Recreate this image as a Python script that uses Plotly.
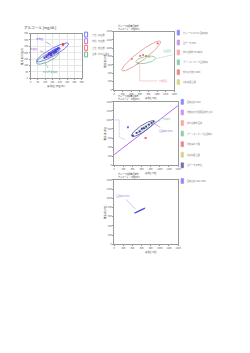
import numpy as np
import plotly.graph_objects as go

W, H = 250, 353
FONT = "Noto Sans CJK JP, Noto Sans, sans-serif"

# ---------------- data ----------------
# Panel A (alcohol)
a_title = "アルコール [mg/dL]"
a_xlabel = "実測値 [mg/dL]"
a_ylabel = "推定値 [mg/dL]"
a_ticks = [0, 50, 100, 150, 200, 250, 300, 350]
a_pts_x = [95, 108, 118, 126, 134, 142, 150, 158, 166, 174, 182, 190, 140, 160, 128, 172]
a_pts_y = [160, 170, 178, 186, 190, 196, 204, 210, 214, 222, 228, 236, 182, 200, 196, 206]
a_red_x = [222]
a_red_y = [264]
# ellipses: centre x, centre y, semi-major, semi-minor, angle (deg)
a_ell_names = ["下位 - 高値群", "中位 - 中値群", "上位 - 低値群", "全体 - 95%信頼域"]
a_ell_colors = ["#5a5aff", "#b04fd0", "#ff4a4a", "#55aa77"]
a_ell_cx = [150, 152, 222, 118]
a_ell_cy = [202, 200, 264, 160]
a_ell_a = [130, 62, 8, 88]
a_ell_b = [28, 17, 5, 28]
a_ell_ang = [33, 35, 30, 30]
a_extra_cx = [165]
a_extra_cy = [212]
a_extra_a = [42]
a_extra_b = [13]
a_extra_ang = [36]
a_lab_text = ["平均値", "中央値", "95%予測楕円"]
a_lab_x = [67, 27, 135]
a_lab_y = [311, 226, 52]
a_lab_to_x = [138, 88, 100]
a_lab_to_y = [262, 206, 118]

# right-hand panels share this axis
r_ticks = [0, 200, 400, 600, 800, 1000, 1200, 1400]
r_xlabel = "実測値 (mg)"
r_ylabel = "推定値 (mg)"

# Panel B
b_title = ["グループ別検量回帰式", "アルコール ・ Region 1"]
b_leg_names = ["グループA (n=12) 回帰楕円", "全データ 95%", "外れ値除外 95%楕円",
               "ブートストラップ信頼楕円", "外れ値 判定 (Cook)", "参照範囲 上限"]
b_leg_colors = ["#6b6bff", "#c07ae6", "#ff8c8c", "#6fc29a", "#e06a6a", "#cccc66"]
b_ell_cx = [631, 735]
b_ell_cy = [817, 723]
b_ell_a = [568, 233]
b_ell_b = [105, 80]
b_ell_ang = [38, 12]
b_ell_colors = ["#e88a8a", "#7cc8a0"]
b_pts_x = [414, 607, 677, 747, 817, 1015, 560]
b_pts_y = [747, 817, 840, 817, 793, 1120, 640]
b_pts_colors = ["#e08080", "#d07070", "#e08080", "#70b090", "#c0c060", "#e06060", "#e08080"]
b_green_lead_x = [964, 1380]
b_green_lead_y = [747, 850]
b_pink_lead_x = [597, 597, 1010]
b_pink_lead_y = [603, 217, 217]
b_lab_text = ["信頼区間", "予測区間"]

# Panel C
c_title = ["グループ別検量回帰式", "アルコール ・ Region 2"]
c_leg_names = ["回帰直線 (OLS)", "外部精度管理用回帰式 (y=x)", "外れ値除外 回帰", "ブートストラップ信頼楕円",
               "判定基準 下限", "参照範囲 上限", "全データ 平均値"]
c_leg_colors = ["#6b6bff", "#c07ae6", "#ff8c8c", "#6fc29a", "#e06a6a", "#cccc66", "#4a4aa0"]
c_line_x = [0, 1500]
c_line_y = [233, 1396]
c_ell_cx = [624, 653]
c_ell_cy = [807, 817]
c_ell_a = [292, 175]
c_ell_b = [72, 30]
c_ell_ang = [34, 34]
c_ell_colors = ["#4a4aa0", "#7cc8a0"]
c_pts_x = [408, 490, 560, 607, 653, 700, 758, 817, 863]
c_pts_y = [653, 712, 747, 805, 817, 852, 898, 933, 968]
c_out_x = [301, 688]
c_out_y = [840, 603]
c_out_colors = ["#6b6bff", "#e06a6a"]
c_lab_text = ["信頼楕円 (95%)", "予測楕円"]
c_lab_x = [1130, 1130]
c_lab_y = [760, 1010]
c_lab_to_x = [880, 820]
c_lab_to_y = [920, 935]
c_side_lead_x = [0, 110, 110, 250]
c_side_lead_y = [1000, 1000, 620, 560]

# Panel D
d_title = ["グループ別検量回帰式", "アルコール ・ Region 3"]
d_leg_names = ["回帰直線 (OLS) 95%"]
d_leg_colors = ["#6b6bff"]
d_ell_cx = [562]
d_ell_cy = [733]
d_ell_a = [128]
d_ell_b = [9]
d_ell_ang = [25]
d_lab_text = ["信頼楕円 (95%)"]
d_lab_x = [190]
d_lab_y = [1050]
d_lab_to_x = [470]
d_lab_to_y = [760]

# ---------------- helpers ----------------
def px_x(p):
    return p / W

def px_y(p):
    return 1 - p / H

def ellipse(cx, cy, a, b, ang):
    t = np.linspace(0, 2 * np.pi, 120)
    th = np.deg2rad(ang)
    x = cx + a * np.cos(t) * np.cos(th) - b * np.sin(t) * np.sin(th)
    y = cy + a * np.cos(t) * np.sin(th) + b * np.sin(t) * np.cos(th)
    return x, y

fig = go.Figure()
shapes = []
annotations = []

def add_axes(n, xdom, ydom, ticks, xlabel, ylabel, rng, grid=False):
    xa = "xaxis" if n == 1 else f"xaxis{n}"
    ya = "yaxis" if n == 1 else f"yaxis{n}"
    yref = "y" if n == 1 else f"y{n}"
    xref = "x" if n == 1 else f"x{n}"
    common = dict(range=rng, tickvals=ticks, ticktext=[str(t) for t in ticks],
                  tickfont=dict(size=2.3, color="#555", family=FONT),
                  showline=True, linecolor="#9a9a9a", linewidth=1, mirror=True,
                  ticks="outside", ticklen=1, tickcolor="#999", zeroline=False,
                  showgrid=grid, gridcolor="#e6e6e6", gridwidth=0.5,
                  fixedrange=True)
    xtitle = dict(text=xlabel, font=dict(size=2.6, color="#555", family=FONT), standoff=0.5) if xlabel else None
    fig.update_layout(**{
        xa: dict(domain=xdom, anchor=yref, title=xtitle, **common),
        ya: dict(domain=ydom, anchor=xref,
                 title=dict(text=ylabel, font=dict(size=2.6, color="#555", family=FONT), standoff=0.5),
                 **common),
    })
    return xref, yref

def lead(xr, yr, xs, ys, color):
    fig.add_trace(go.Scatter(x=xs, y=ys, mode="lines", line=dict(color=color, width=0.5),
                             xaxis=xr, yaxis=yr, showlegend=False, hoverinfo="skip"))

# ---------------- Panel A ----------------
xr, yr = add_axes(1, [px_x(30), px_x(82)], [px_y(77), px_y(32)], a_ticks, a_xlabel, a_ylabel, [0, 350], grid=True)
for i in range(len(a_ell_cx)):
    ex, ey = ellipse(a_ell_cx[i], a_ell_cy[i], a_ell_a[i], a_ell_b[i], a_ell_ang[i])
    fig.add_trace(go.Scatter(x=ex, y=ey, mode="lines", line=dict(color=a_ell_colors[i], width=0.8),
                             xaxis=xr, yaxis=yr, showlegend=False, hoverinfo="skip"))
for i in range(len(a_extra_cx)):
    ex, ey = ellipse(a_extra_cx[i], a_extra_cy[i], a_extra_a[i], a_extra_b[i], a_extra_ang[i])
    fig.add_trace(go.Scatter(x=ex, y=ey, mode="lines", line=dict(color="#5a5aff", width=0.8),
                             xaxis=xr, yaxis=yr, showlegend=False, hoverinfo="skip"))
fig.add_trace(go.Scatter(x=a_pts_x, y=a_pts_y, mode="markers",
                         marker=dict(size=2, color="#4a4ad0", symbol="square"),
                         xaxis=xr, yaxis=yr, showlegend=False))
fig.add_trace(go.Scatter(x=a_red_x, y=a_red_y, mode="markers",
                         marker=dict(size=2.5, color="#ff3030"),
                         xaxis=xr, yaxis=yr, showlegend=False))
a_lab_colors = ["#5a5aff", "#b04fd0", "#55aa77"]
for i in range(len(a_lab_text)):
    annotations.append(dict(x=a_lab_to_x[i], y=a_lab_to_y[i], ax=a_lab_x[i], ay=a_lab_y[i],
                            axref=xr, ayref=yr, xref=xr, yref=yr, text=a_lab_text[i],
                            showarrow=True, arrowhead=0, arrowwidth=0.5, arrowcolor=a_lab_colors[i],
                            font=dict(size=2.4, color=a_lab_colors[i], family=FONT)))
annotations.append(dict(x=px_x(21), y=px_y(26), xref="paper", yref="paper", text=a_title,
                        showarrow=False, xanchor="left", yanchor="middle",
                        font=dict(size=3.6, color="#333", family=FONT)))
for i, name in enumerate(a_ell_names):
    yc = 33 + i * 6.7
    shapes.append(dict(type="rect", xref="paper", yref="paper",
                       x0=px_x(85), x1=px_x(88), y0=px_y(yc + 2.5), y1=px_y(yc - 2.5),
                       line=dict(color=a_ell_colors[i], width=0.8), fillcolor="rgba(255,255,255,0)"))
    annotations.append(dict(x=px_x(90), y=px_y(yc), xref="paper", yref="paper", text=name,
                            showarrow=False, xanchor="left", yanchor="middle",
                            font=dict(size=2.2, color="#777", family=FONT)))

# ---------------- right-hand panels ----------------
def right_panel(n, top, bottom, right, title, leg_names, leg_colors, leg_top, leg_step):
    xr, yr = add_axes(n, [px_x(115), px_x(right)], [px_y(bottom), px_y(top)], r_ticks,
                      None, r_ylabel, [0, 1400])
    # x-axis label, placed right of centre just under the tick labels
    annotations.append(dict(x=px_x(152), y=px_y(bottom + 8), xref="paper", yref="paper",
                            text=r_xlabel, showarrow=False, xanchor="center", yanchor="middle",
                            borderpad=0, font=dict(size=2.2, color="#555", family=FONT)))
    for j, line in enumerate(title):
        annotations.append(dict(x=px_x(117), y=px_y(top - 5.8 + j * 3.0), xref="paper", yref="paper",
                                text=line, showarrow=False, xanchor="left", yanchor="middle",
                                font=dict(size=2.1, color="#444", family=FONT)))
    for i, name in enumerate(leg_names):
        yc = leg_top + i * leg_step
        shapes.append(dict(type="rect", xref="paper", yref="paper",
                           x0=px_x(right + 3), x1=px_x(right + 5.5), y0=px_y(yc + 2.5), y1=px_y(yc - 2.5),
                           line=dict(color=leg_colors[i], width=0.6), fillcolor=leg_colors[i], opacity=0.8))
        annotations.append(dict(x=px_x(right + 7), y=px_y(yc), xref="paper", yref="paper", text=name,
                                showarrow=False, xanchor="left", yanchor="middle",
                                font=dict(size=2.1, color="#777", family=FONT)))
    return xr, yr

# Panel B
xr, yr = right_panel(2, 30, 89, 176, b_title, b_leg_names, b_leg_colors, 31, 10)
for i in range(len(b_ell_cx)):
    ex, ey = ellipse(b_ell_cx[i], b_ell_cy[i], b_ell_a[i], b_ell_b[i], b_ell_ang[i])
    fig.add_trace(go.Scatter(x=ex, y=ey, mode="lines", line=dict(color=b_ell_colors[i], width=0.8),
                             xaxis=xr, yaxis=yr, showlegend=False, hoverinfo="skip"))
fig.add_trace(go.Scatter(x=b_pts_x, y=b_pts_y, mode="markers",
                         marker=dict(size=1.8, color=b_pts_colors, symbol="square"),
                         xaxis=xr, yaxis=yr, showlegend=False))
lead(xr, yr, b_green_lead_x, b_green_lead_y, "#9ad8b8")
lead(xr, yr, b_pink_lead_x, b_pink_lead_y, "#f0a0a0")
annotations.append(dict(x=b_green_lead_x[-1], y=b_green_lead_y[-1], xref=xr, yref=yr, text=b_lab_text[0],
                        showarrow=False, xanchor="right", yanchor="bottom",
                        font=dict(size=2.0, color="#7cc8a0", family=FONT)))
annotations.append(dict(x=b_pink_lead_x[-1], y=b_pink_lead_y[-1], xref=xr, yref=yr, text=b_lab_text[1],
                        showarrow=False, xanchor="left", yanchor="middle",
                        font=dict(size=2.0, color="#e88a8a", family=FONT)))

# Panel C
xr, yr = right_panel(3, 101, 165, 180, c_title, c_leg_names, c_leg_colors, 101, 10.7)
fig.add_trace(go.Scatter(x=c_line_x, y=c_line_y, mode="lines", line=dict(color="#b070f0", width=1),
                         xaxis=xr, yaxis=yr, showlegend=False, hoverinfo="skip", cliponaxis=False))
for i in range(len(c_ell_cx)):
    ex, ey = ellipse(c_ell_cx[i], c_ell_cy[i], c_ell_a[i], c_ell_b[i], c_ell_ang[i])
    fig.add_trace(go.Scatter(x=ex, y=ey, mode="lines", line=dict(color=c_ell_colors[i], width=0.8),
                             xaxis=xr, yaxis=yr, showlegend=False, hoverinfo="skip"))
fig.add_trace(go.Scatter(x=c_pts_x, y=c_pts_y, mode="markers",
                         marker=dict(size=1.8, color="#333388", symbol="square"),
                         xaxis=xr, yaxis=yr, showlegend=False))
fig.add_trace(go.Scatter(x=c_out_x, y=c_out_y, mode="markers",
                         marker=dict(size=2, color=c_out_colors, symbol="square"),
                         xaxis=xr, yaxis=yr, showlegend=False))
lead(xr, yr, c_side_lead_x, c_side_lead_y, "#d8a0e8")
c_lab_colors = ["#7a7ad0", "#7cc8a0"]
for i in range(len(c_lab_text)):
    annotations.append(dict(x=c_lab_to_x[i], y=c_lab_to_y[i], ax=c_lab_x[i], ay=c_lab_y[i],
                            axref=xr, ayref=yr, xref=xr, yref=yr, text=c_lab_text[i],
                            showarrow=True, arrowhead=0, arrowwidth=0.5, arrowcolor=c_lab_colors[i],
                            font=dict(size=2.0, color=c_lab_colors[i], family=FONT)))

# Panel D
xr, yr = right_panel(4, 180, 245, 180, d_title, d_leg_names, d_leg_colors, 181, 10)
for i in range(len(d_ell_cx)):
    ex, ey = ellipse(d_ell_cx[i], d_ell_cy[i], d_ell_a[i], d_ell_b[i], d_ell_ang[i])
    fig.add_trace(go.Scatter(x=ex, y=ey, mode="lines", line=dict(color="#4a4ae0", width=1),
                             xaxis=xr, yaxis=yr, showlegend=False, hoverinfo="skip"))
for i in range(len(d_lab_text)):
    annotations.append(dict(x=d_lab_to_x[i], y=d_lab_to_y[i], ax=d_lab_x[i], ay=d_lab_y[i],
                            axref=xr, ayref=yr, xref=xr, yref=yr, text=d_lab_text[i],
                            showarrow=True, arrowhead=0, arrowwidth=0.5, arrowcolor="#8a8ae8",
                            font=dict(size=2.0, color="#8a8ae8", family=FONT)))

fig.update_layout(width=W, height=H, margin=dict(l=0, r=0, t=0, b=0),
                  paper_bgcolor="white", plot_bgcolor="white", showlegend=False,
                  shapes=shapes, annotations=annotations,
                  font=dict(family=FONT, size=3))
fig.write_html("out.html", config={"displayModeBar": False})
